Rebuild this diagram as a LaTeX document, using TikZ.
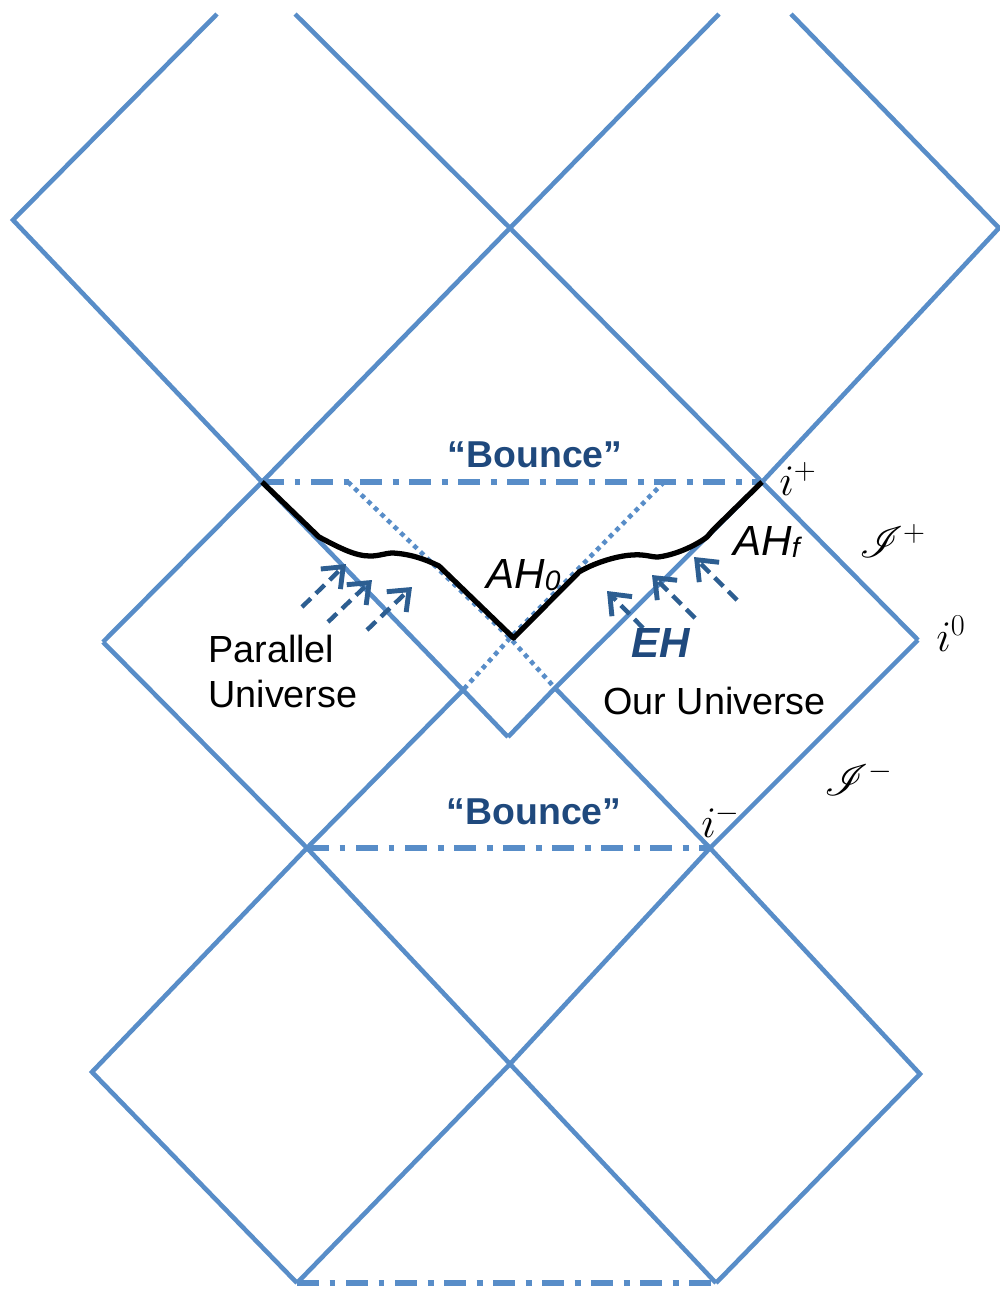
\documentclass[tikz,border=0pt]{standalone}
\usepackage{fontspec}
\setmainfont{Liberation Sans}
\usepackage{mathrsfs}
\usetikzlibrary{arrows.meta}
\definecolor{pblue}{RGB}{88,141,200}
\definecolor{tblue}{RGB}{31,73,125}
\definecolor{ablue}{RGB}{45,94,145}
\tikzset{
  pline/.style={draw=pblue, line width=2.6pt, line join=miter},
  dotline/.style={draw=pblue, line width=2.6pt, dash pattern=on 2.6pt off 2.6pt},
  dashdotline/.style={draw=pblue, line width=2.9pt, dash pattern=on 12.5pt off 6pt on 3.4pt off 6pt},
  ahline/.style={draw=black, line width=3pt, line join=round},
  flowarrow/.style={draw=ablue, line width=2.5pt, dash pattern=on 7pt off 4pt,
    -{Straight Barb[length=10pt,width=16pt,line width=2.8pt]}},
  lbl/.style={inner sep=0pt, anchor=base west},
  bouncelbl/.style={inner sep=0pt, anchor=base, text=tblue, font=\bfseries\fontsize{21.3}{25}\selectfont},
  txtlbl/.style={lbl, font=\fontsize{21.5}{26}\selectfont},
  mathlbl/.style={lbl, font=\fontsize{24}{28}\selectfont},
}
\begin{document}
\begin{tikzpicture}[x=0.02cm,y=-0.02cm]
\useasboundingbox (0,0) rectangle (1000,1289);
% key points
\coordinate (T1) at (217,14);
\coordinate (T2) at (295,14);
\coordinate (T3) at (719,14);
\coordinate (T4) at (791,14);
\coordinate (L0) at (13,220);
\coordinate (C0) at (510,228);
\coordinate (R0) at (999,228);
\coordinate (P) at (262,482);
\coordinate (Ip) at (762,482);
\coordinate (D1) at (348,482);
\coordinate (D2) at (664,482);
\coordinate (V) at (510,638);
\coordinate (A) at (463,690);
\coordinate (B) at (555,688);
\coordinate (Cb) at (508,737);
\coordinate (Lp) at (103,642);
\coordinate (I0) at (918,640);
\coordinate (Pb) at (307,848);
\coordinate (Im) at (710,848);
\coordinate (L2) at (92,1072);
\coordinate (C2) at (510,1064);
\coordinate (R2) at (920,1074);
\coordinate (B1) at (297,1283);
\coordinate (B2) at (716,1283);
% solid blue lines
\draw[pline] (T1) -- (L0) -- (P) -- (A) -- (Cb);
\draw[pline] (T2) -- (C0) -- (Ip) -- (I0);
\draw[pline] (T3) -- (C0) -- (P) -- (Lp);
\draw[pline] (T4) -- (R0) -- (Ip) -- (B) -- (Cb);
\draw[pline] (Lp) -- (Pb) -- (C2) -- (B2);
\draw[pline] (I0) -- (Im) -- (C2) -- (B1);
\draw[pline] (A) -- (Pb) -- (L2) -- (B1);
\draw[pline] (B) -- (Im) -- (R2) -- (B2);
% dotted lines
\draw[dotline] (D1) -- (V) -- (B);
\draw[dotline] (D2) -- (V) -- (A);
% dash-dot bounce lines
\draw[dashdotline] (P) -- (Ip);
\draw[dashdotline] (Pb) -- (Im);
\draw[dashdotline] (B1) -- (B2);
% apparent horizon curve
\coordinate (h1) at (319,537);
\coordinate (h2) at (439,566);
\coordinate (h3) at (579,572);
\coordinate (h4) at (707,537);
\coordinate (h5) at (713,530);
\draw[ahline] (P) -- (h1) .. controls (340,548) and (355,556) .. (370,556)
  .. controls (380,556) and (385,553) .. (393,553)
  .. controls (410,554) and (425,559) .. (h2) -- ([xshift=2pt]V) -- (h3)
  .. controls (592,564) and (615,556) .. (632,555)
  .. controls (645,554) and (650,557) .. (658,557)
  .. controls (675,555) and (695,546) .. (h4) -- (h5) -- (Ip);
% dashed arrows
\coordinate (la1) at (302,607); \coordinate (la1e) at (346,564);
\coordinate (la2) at (328,622); \coordinate (la2e) at (372,580);
\coordinate (la3) at (367,630); \coordinate (la3e) at (412,587);
\coordinate (ra1) at (643,628); \coordinate (ra1e) at (607,591);
\coordinate (ra2) at (695,618); \coordinate (ra2e) at (652,575);
\coordinate (ra3) at (737,600); \coordinate (ra3e) at (694,557);
\draw[flowarrow] (la1) -- (la1e);
\draw[flowarrow] (la2) -- (la2e);
\draw[flowarrow] (la3) -- (la3e);
\draw[flowarrow] (ra1) -- (ra1e);
\draw[flowarrow] (ra2) -- (ra2e);
\draw[flowarrow] (ra3) -- (ra3e);
% labels
\node[bouncelbl] (bounceup) at (535,467) {“Bounce”};
\node[bouncelbl] (bouncedn) at (534,824) {“Bounce”};
\node[txtlbl] (par1) at (208,662) {Parallel};
\node[txtlbl] (par2) at (208,707) {Universe};
\node[txtlbl] (our) at (603,714) {Our Universe};
\node[lbl, text=tblue, font=\bfseries\itshape\fontsize{24}{28}\selectfont] (eh) at (631,657) {EH};
\node[lbl, font=\itshape\fontsize{24}{28}\selectfont] (ah0) at (486,588) {AH\raisebox{-1.5pt}{\fontsize{16}{18}\selectfont 0}};
\node[lbl, font=\itshape\fontsize{24}{28}\selectfont] (ahf) at (733,555) {AH\raisebox{-1.5pt}{\fontsize{16}{18}\selectfont f}};
\node[mathlbl] (iplus) at (779,495) {$i^+$};
\node[mathlbl] (scrplus) at (859,557) {$\mathscr{I}^+$};
\node[mathlbl] (izero) at (936,651) {$i^0$};
\node[mathlbl] (scrminus) at (824,795) {$\mathscr{I}^-$};
\node[mathlbl] (iminus) at (701,837) {$i^-$};
\end{tikzpicture}
\end{document}
